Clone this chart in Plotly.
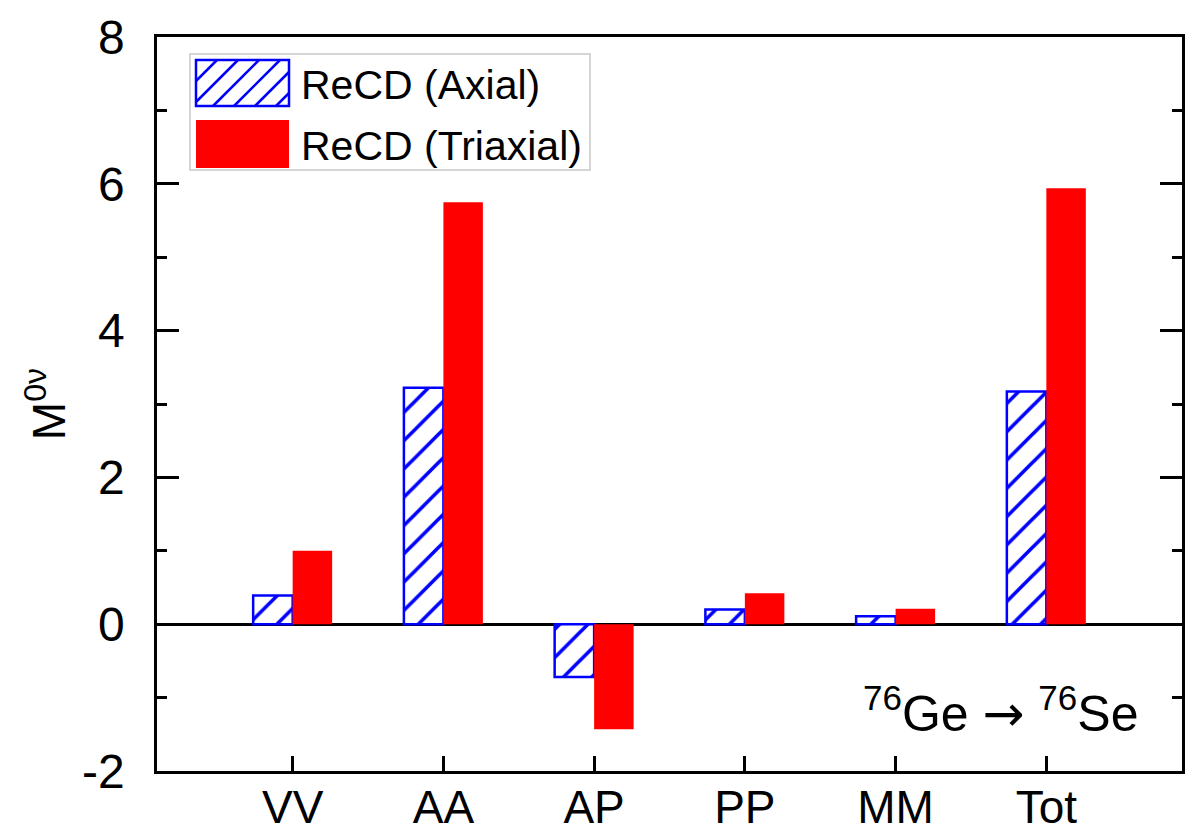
import plotly.graph_objects as go

categories = ["VV", "AA", "AP", "PP", "MM", "Tot"]
axial = [0.39, 3.22, -0.72, 0.20, 0.11, 3.17]
triaxial = [1.00, 5.75, -1.43, 0.42, 0.21, 5.94]
series_names = ["ReCD (Axial)", "ReCD (Triaxial)"]
y_tickvals = [-2, 0, 2, 4, 6, 8]
y_ticktext = ["-2", "0", "2", "4", "6", "8"]

W, H = 1193, 834
L, R, T, B = 157, 11, 37, 63
PW, PH = W - L - R, H - T - B
FONT = "Liberation Sans, Arial, sans-serif"

def px(x):
    return (x - L) / PW

def py(y):
    return (H - B - y) / PH

fig = go.Figure()
fig.add_trace(go.Bar(
    x=categories, y=axial, name=series_names[0],
    marker=dict(color="white", line=dict(color="#0000ff", width=2.5),
                pattern=dict(shape="/", fgcolor="#0000ff", bgcolor="white", fgopacity=1,
                             size=20, solidity=0.18)),
    showlegend=False,
))
fig.add_trace(go.Bar(
    x=categories, y=triaxial, name=series_names[1],
    marker=dict(color="#ff0000", line=dict(width=0)),
    showlegend=False,
))

shapes = []
shapes.append(dict(type="rect", xref="paper", yref="paper",
                   x0=px(190), x1=px(590), y0=py(170), y1=py(54),
                   line=dict(color="#c8c8c8", width=1.5), fillcolor="white", layer="above"))
sx0, sx1, sy0, sy1 = 196, 289, 60, 106
shapes.append(dict(type="rect", xref="paper", yref="paper",
                   x0=px(sx0), x1=px(sx1), y0=py(sy1), y1=py(sy0),
                   line=dict(color="#0000ff", width=2.5), fillcolor="white", layer="above"))
step = 21
h = sy1 - sy0
c = sx0 - h
while c < sx1:
    xa, ya = c, sy1
    xb, yb = c + h, sy0
    if xa < sx0:
        ya = sy1 - (sx0 - xa)
        xa = sx0
    if xb > sx1:
        yb = sy0 + (xb - sx1)
        xb = sx1
    if xb > xa:
        shapes.append(dict(type="line", xref="paper", yref="paper",
                           x0=px(xa), y0=py(ya), x1=px(xb), y1=py(yb),
                           line=dict(color="#0000ff", width=2.5), layer="above"))
    c += step
shapes.append(dict(type="rect", xref="paper", yref="paper",
                   x0=px(196), x1=px(289), y0=py(168), y1=py(120),
                   line=dict(width=0), fillcolor="#ff0000", layer="above"))

annotations = [
    dict(xref="paper", yref="paper", x=px(299), y=py(85), xanchor="left", yanchor="middle",
         text=series_names[0], showarrow=False, font=dict(size=41, color="black", family=FONT)),
    dict(xref="paper", yref="paper", x=px(299), y=py(146), xanchor="left", yanchor="middle",
         text=series_names[1], showarrow=False, font=dict(size=41, color="black", family=FONT)),
    dict(xref="paper", yref="paper", x=px(1140), y=py(710), xanchor="right", yanchor="middle",
         text="<sup>76</sup>Ge <span style=\"font-family:DejaVu Sans\">\u2192</span> <sup>76</sup>Se",
         showarrow=False, font=dict(size=50, color="black", family=FONT)),
]

fig.update_layout(
    width=W, height=H,
    margin=dict(l=L, r=R, t=T, b=B, pad=0, autoexpand=False),
    paper_bgcolor="white", plot_bgcolor="white",
    barmode="group", bargap=0.476, bargroupgap=0,
    font=dict(family=FONT, color="black"),
    shapes=shapes, annotations=annotations,
    showlegend=False,
)
fig.update_xaxes(
    range=[-0.9, 5.9], showgrid=False, zeroline=False, automargin=False,
    showline=True, linecolor="black", linewidth=2.5, mirror=True,
    ticks="inside", ticklen=15, tickwidth=2.5, tickcolor="black",
    tickfont=dict(size=46, family=FONT, color="black"), ticklabelstandoff=-6,
)
fig.update_yaxes(
    range=[-2, 8], tickvals=y_tickvals, ticktext=y_ticktext, showgrid=False, automargin=False,
    zeroline=True, zerolinecolor="black", zerolinewidth=3,
    showline=True, linecolor="black", linewidth=2.5, mirror="ticks",
    ticks="inside", ticklen=22, tickwidth=2.5, tickcolor="black",
    minor=dict(ticks="inside", ticklen=10, tickwidth=2.5, tickcolor="black", dtick=1, tick0=0, showgrid=False),
    tickfont=dict(size=48, family=FONT, color="black"), ticklabelstandoff=20,
    title=dict(text="M<sup>0\u03bd</sup>", font=dict(size=46, family=FONT, color="black"), standoff=2),
)

fig.write_html("out.html")
